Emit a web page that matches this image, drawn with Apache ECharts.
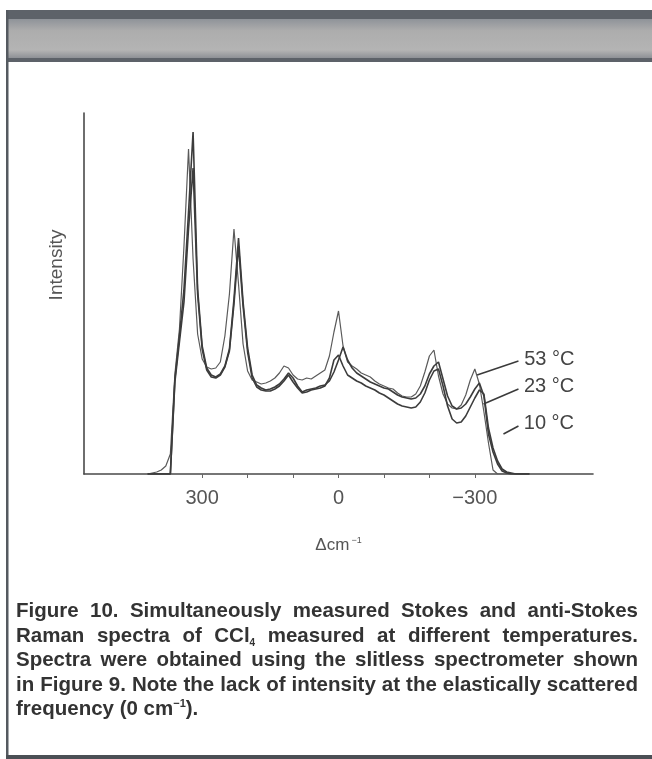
<!DOCTYPE html>
<html>
<head>
<meta charset="utf-8">
<script src="https://cdn.jsdelivr.net/npm/echarts@6.0.0/dist/echarts.min.js"></script>
<style>
html, body { margin: 0; padding: 0; background: #fff; }
#page { position: relative; width: 652px; height: 759px; overflow: hidden; }
#chart { position: absolute; left: 0; top: 0; width: 652px; height: 759px; }
#caption {
	position: absolute; left: 16px; top: 598px; width: 622px;
	font-family: "Liberation Sans", Arial, sans-serif; font-weight: bold;
	font-size: 20.5px; line-height: 24.6px; color: #333;
}
#caption .ln { white-space: nowrap; text-align: justify; text-align-last: justify; }
#caption .ln.last { text-align-last: left; }
#caption sub { font-size: 10px; vertical-align: -4px; line-height: 0; }
#caption sup { font-size: 11px; vertical-align: 8px; line-height: 0; }
</style>
</head>
<body>
<div id="page">
	<div id="chart"></div>
	<div id="caption">
		<div class="ln">Figure 10. Simultaneously measured Stokes and anti-Stokes</div>
		<div class="ln">Raman spectra of CCl<sub>4</sub> measured at different temperatures.</div>
		<div class="ln">Spectra were obtained using the slitless spectrometer shown</div>
		<div class="ln">in Figure 9. Note the lack of intensity at the elastically scattered</div>
		<div class="ln last">frequency (0 cm<sup>&minus;1</sup>).</div>
	</div>
</div>
<script>
// Raman shift (cm-1), Stokes on the left, anti-Stokes on the right
const shift = [420, 410, 400, 390, 380, 370, 360, 350, 340, 330,
	320, 310, 300, 290, 280, 270, 260, 250, 240, 230,
	220, 210, 200, 190, 180, 170, 160, 150, 140, 130,
	120, 110, 100, 90, 80, 70, 60, 50, 40, 30,
	20, 10, 0, -10, -20, -30, -40, -50, -60, -70,
	-80, -90, -100, -110, -120, -130, -140, -150, -160, -170,
	-180, -190, -200, -210, -220, -230, -240, -250, -260, -270,
	-280, -290, -300, -310, -320, -330, -340, -350, -360, -370,
	-380, -390, -400, -410, -420];

// intensity, arbitrary units
const int53 = [0, 1, 2, 4, 8, 20, 100, 145, 228, 325,
	215, 140, 115, 107, 105, 106, 112, 138, 180, 245,
	190, 130, 103, 94, 92, 90, 91, 93, 96, 101,
	108, 106, 99, 95, 94, 96, 95, 98, 101, 104,
	118, 142, 163, 128, 112, 108, 105, 101, 99, 97,
	93, 90, 88, 86, 85, 81, 78, 77, 77, 80,
	88, 102, 118, 124, 98, 80, 70, 66, 65, 69,
	79, 94, 105, 90, 62, 31, 4, 0, 0, 0,
	0, 0, 0, 0, 0];
const int23 = [0, 0, 0, 0, 0, 0, 95, 138, 185, 262,
	342, 185, 128, 106, 99, 97, 100, 108, 125, 175,
	236, 172, 126, 99, 89, 86, 84, 85, 87, 90,
	95, 101, 96, 88, 82, 84, 85, 86, 88, 89,
	93, 102, 114, 127, 114, 106, 101, 98, 95, 92,
	90, 88, 86, 85, 82, 79, 77, 76, 75, 76,
	80, 88, 100, 108, 112, 95, 78, 68, 65, 66,
	70, 77, 85, 91, 78, 40, 22, 10, 3, 1,
	0, 0, 0, 0, 0];
const int10 = [0, 0, 0, 0, 0, 0, 92, 132, 172, 245,
	306, 180, 125, 104, 97, 96, 99, 107, 123, 170,
	228, 168, 122, 96, 87, 84, 83, 83, 85, 88,
	93, 99, 92, 86, 81, 82, 84, 85, 86, 88,
	96, 114, 119, 108, 99, 96, 93, 91, 88, 86,
	84, 81, 79, 76, 73, 70, 68, 67, 66, 67,
	72, 81, 94, 103, 105, 88, 68, 55, 51, 52,
	58, 67, 76, 84, 80, 46, 26, 13, 5, 2,
	1, 0, 0, 0, 0];

const tickValues = [-300, -200, -100, 0, 100, 200, 300];
const labelValues = [-300, 0, 300];

// temperature labels and their leader lines (data coords)
const tempLabels = ['53 °C', '23 °C', '10 °C'];
const leaderFrom = [[-305, 99], [-319, 70], [-363, 40]];
const leaderTo = [[-396, 113], [-396, 85], [-396, 48]];

function pairs (ys) {
	return shift.map((x, i) => [x, ys[i]]);
}

function makeSeries (name, ys, idx, color, width) {
	return {
		name: name,
		type: 'line',
		data: pairs(ys),
		showSymbol: false,
		lineStyle: {color: color, width: width},
		markLine: {
			silent: true,
			symbol: ['none', 'none'],
			lineStyle: {color: '#3a3a3a', width: 1.5, type: 'solid'},
			label: {
				show: true,
				position: 'end',
				distance: 6,
				formatter: tempLabels[idx],
				fontFamily: 'Liberation Sans, Arial, sans-serif',
				fontSize: 20,
				color: '#444'
			},
			data: [[{coord: leaderFrom[idx]}, {coord: leaderTo[idx]}]]
		}
	};
}

const chart = echarts.init(document.getElementById('chart'));
chart.setOption({
	animation: false,
	backgroundColor: '#fff',
	textStyle: {fontFamily: 'Liberation Sans, Arial, sans-serif'},
	grid: {left: 84, right: 59, top: 113, bottom: 285},
	xAxis: {
		type: 'value',
		min: -560,
		max: 560,
		inverse: true,
		name: '{a|\u0394cm}{b|\u22121}',
		nameLocation: 'middle',
		nameGap: 62,
		nameTextStyle: {
			rich: {
				a: {fontSize: 17, color: '#555'},
				b: {fontSize: 9, color: '#555', padding: [0, 0, 9, 2]}
			}
		},
		axisLine: {onZero: false, lineStyle: {color: '#4a4a4a', width: 1.6}},
		axisTick: {show: true, customValues: tickValues, length: 4, lineStyle: {color: '#666'}},
		axisLabel: {
			customValues: labelValues,
			fontSize: 20,
			color: '#555',
			margin: 14,
			formatter: v => v < 0 ? '\u2212' + Math.abs(v) : String(v)
		},
		splitLine: {show: false}
	},
	yAxis: {
		type: 'value',
		position: 'left',
		min: 0,
		max: 361,
		axisLine: {show: true, onZero: false, lineStyle: {color: '#4a4a4a', width: 1.6}},
		axisTick: {show: false},
		axisLabel: {show: false},
		splitLine: {show: false}
	},
	graphic: [
		// page frame: top band, left rule, bottom rule
		{type: 'rect', shape: {x: 7, y: 10, width: 645, height: 52}, style: {fill: '#5d6269'}, silent: true},
		{type: 'rect', shape: {x: 7, y: 19, width: 645, height: 39}, silent: true,
			style: {fill: new echarts.graphic.LinearGradient(0, 0, 0, 1, [
				{offset: 0, color: '#8f9399'},
				{offset: 0.3, color: '#adadad'},
				{offset: 0.8, color: '#b4b4b4'},
				{offset: 1, color: '#8e9196'}
			])}},
		{type: 'rect', shape: {x: 6, y: 10, width: 2.5, height: 749}, style: {fill: '#555a60'}, silent: true},
		{type: 'rect', shape: {x: 6, y: 755, width: 646, height: 4}, style: {fill: '#4b4f55'}, silent: true},
		{
			type: 'text', x: 57, y: 265, rotation: Math.PI / 2, silent: true,
			style: {text: 'Intensity', fontSize: 19, fill: '#555', align: 'center', verticalAlign: 'middle',
				fontFamily: 'Liberation Sans, Arial, sans-serif'}
		}
	],
	series: [
		makeSeries('53 °C', int53, 0, '#5a5a5a', 1.2),
		makeSeries('23 °C', int23, 1, '#3c3c3c', 1.6),
		makeSeries('10 °C', int10, 2, '#3c3c3c', 1.6)
	]
});
</script>
</body>
</html>
